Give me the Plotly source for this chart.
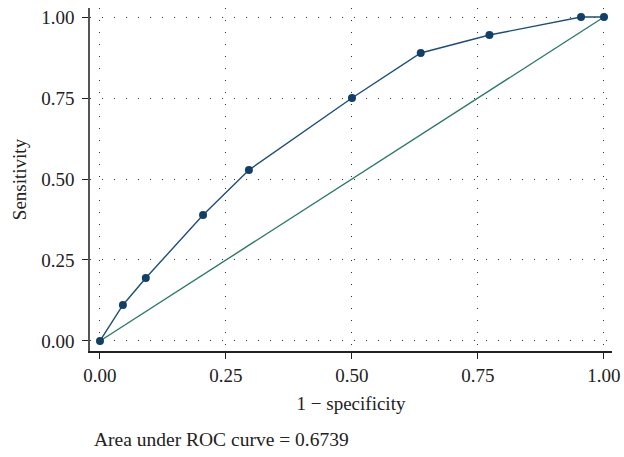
import plotly.graph_objects as go

fpr = [0.0, 0.0455, 0.0909, 0.2045, 0.2955, 0.5, 0.6364, 0.7727, 0.9545, 1.0]
tpr = [0.0, 0.1111, 0.1944, 0.3889, 0.5278, 0.75, 0.8889, 0.9444, 1.0, 1.0]
ref_x = [0.0, 1.0]
ref_y = [0.0, 1.0]
tick_vals = [0.0, 0.25, 0.5, 0.75, 1.0]
tick_text = ["0.00", "0.25", "0.50", "0.75", "1.00"]
auc_text = "Area under ROC curve = 0.6739"

font = "Liberation Serif"

fig = go.Figure()
fig.add_trace(go.Scatter(x=ref_x, y=ref_y, mode="lines",
                         line=dict(color="#2b7a6a", width=1.4), hoverinfo="skip"))
fig.add_trace(go.Scatter(x=fpr, y=tpr, mode="lines+markers",
                         line=dict(color="#1d4e7a", width=1.4),
                         marker=dict(color="#113f68", size=8)))

fig.update_layout(
    width=624, height=457,
    margin=dict(l=90, r=12, t=8, b=106),
    paper_bgcolor="white", plot_bgcolor="white",
    showlegend=False,
    font=dict(family=font, size=19, color="#222"),
    annotations=[dict(text=auc_text, xref="paper", yref="paper",
                      x=0.004, y=-0.259, xanchor="left", yanchor="middle",
                      showarrow=False, font=dict(family=font, size=19.5, color="#222"))],
)
fig.update_xaxes(range=[-0.0198, 1.0159], tickvals=tick_vals, ticktext=tick_text,
                 showline=True, linecolor="#222", linewidth=1.5,
                 ticks="outside", ticklen=6, tickcolor="#222",
                 ticklabeloverflow="allow", automargin=False,
                 showgrid=True, gridcolor="#333", gridwidth=1, griddash="1px,11px",
                 zeroline=False,
                 title=dict(text="1 − specificity", standoff=12,
                            font=dict(family=font, size=19, color="#222")))
fig.update_yaxes(range=[-0.0309, 1.0278], tickvals=tick_vals, ticktext=tick_text,
                 showline=True, linecolor="#555", linewidth=1.5,
                 ticks="outside", ticklen=6, tickcolor="#222",
                 ticklabelstandoff=4, ticklabeloverflow="allow", automargin=False,
                 showgrid=True, gridcolor="#333", gridwidth=1, griddash="1px,11px",
                 zeroline=False,
                 title=dict(text="Sensitivity", standoff=10,
                            font=dict(family=font, size=19, color="#222")))

fig.write_html("out.html", config={"displayModeBar": False},
               post_script="document.body.style.margin='0';document.body.style.overflow='hidden';")
